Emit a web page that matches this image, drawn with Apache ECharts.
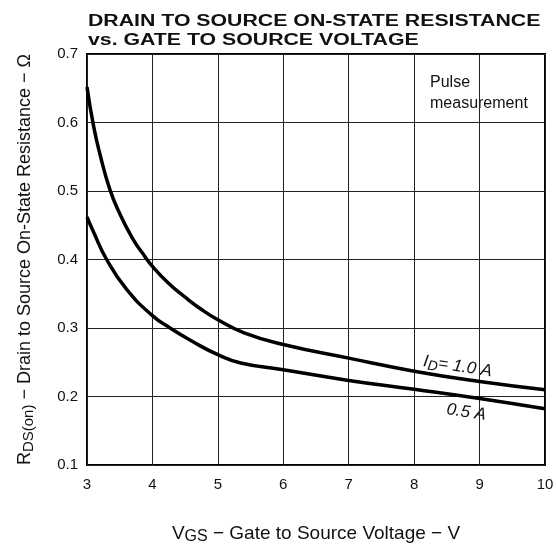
<!DOCTYPE html>
<html>
<head>
<meta charset="utf-8">
<script src="https://cdn.jsdelivr.net/npm/echarts@6/dist/echarts.min.js"></script>
<style>
  html, body { margin: 0; padding: 0; background: #fff; }
  #chart { width: 556px; height: 549px; }
</style>
</head>
<body>
<div id="chart"></div>
<script>
// VGS (V) vs RDS(on) (ohm)
const id1Curve = [
  [3, 0.652], [3.1, 0.595], [3.2, 0.553], [3.35, 0.502], [3.5, 0.467], [3.7, 0.43],
  [3.85, 0.409], [4, 0.39], [4.25, 0.365], [4.5, 0.345], [4.75, 0.327], [5, 0.312],
  [5.4, 0.293], [6, 0.276], [7, 0.256], [8, 0.237], [9, 0.222], [10, 0.21]
]
const id05Curve = [
  [3, 0.462], [3.1, 0.44], [3.3, 0.4], [3.6, 0.357], [4, 0.318], [4.27, 0.3],
  [4.6, 0.281], [5, 0.261], [5.35, 0.249], [6, 0.239], [7, 0.2235], [8, 0.2105],
  [9, 0.197], [10, 0.182]
]
const xTicks = [3, 4, 5, 6, 7, 8, 9, 10]
const yTicks = [0.1, 0.2, 0.3, 0.4, 0.5, 0.6, 0.7]

const chart = echarts.init(document.getElementById('chart'))

const font = 'Liberation Sans, Arial, sans-serif'

const option = {
  backgroundColor: '#fff',
  animation: false,
  grid: {
    left: 87,
    right: 11,
    top: 54,
    bottom: 84,
    show: true,
    borderColor: '#000',
    borderWidth: 2,
    outerBoundsMode: 'none',
    containLabel: false
  },
  xAxis: {
    type: 'value',
    min: 3,
    max: 10,
    interval: 1,
    name: '{v|V}{sub|GS}{v| − Gate to Source Voltage − V}',
    nameLocation: 'middle',
    nameGap: 57,
    nameTextStyle: {
      rich: {
        v: { fontFamily: font, fontSize: 19, color: '#111' },
        sub: { fontFamily: font, fontSize: 16, color: '#111', padding: [7, 0, 0, 0] }
      }
    },
    axisLine: { show: false },
    axisTick: { show: false },
    axisLabel: {
      fontFamily: font,
      fontSize: 15,
      color: '#111',
      margin: 12,
      formatter: v => xTicks.includes(v) ? String(v) : ''
    },
    splitLine: { show: true, lineStyle: { color: '#222', width: 1 } }
  },
  yAxis: {
    type: 'value',
    min: 0.1,
    max: 0.7,
    interval: 0.1,
    name: '{v|R}{sub|DS(on)}{v| − Drain to Source On-State Resistance − Ω}',
    nameLocation: 'middle',
    nameGap: 51,
    nameRotate: 90,
    nameTextStyle: {
      rich: {
        v: { fontFamily: font, fontSize: 18, color: '#111' },
        sub: { fontFamily: font, fontSize: 15, color: '#111', padding: [7, 0, 0, 0] }
      }
    },
    axisLine: { show: false },
    axisTick: { show: false },
    axisLabel: {
      fontFamily: font,
      fontSize: 15,
      color: '#111',
      margin: 9,
      formatter: v => yTicks.find(t => Math.abs(t - v) < 1e-6)?.toFixed(1) ?? ''
    },
    splitLine: { show: true, lineStyle: { color: '#222', width: 1 } }
  },
  graphic: [
    {
      // title, stretched to match the wide spaced capitals
      type: 'text',
      x: 88,
      y: 12,
      scaleX: 1.33,
      style: {
        text: 'DRAIN TO SOURCE ON-STATE RESISTANCE\nvs. GATE TO SOURCE VOLTAGE',
        font: 'bold 16px ' + font,
        fill: '#111',
        lineHeight: 19
      }
    },
    {
      type: 'text',
      x: 430,
      y: 72,
      style: {
        text: 'Pulse\nmeasurement',
        font: '16px ' + font,
        fill: '#111',
        lineHeight: 21
      }
    },
    {
      type: 'text',
      x: 425,
      y: 351,
      rotation: -0.15,
      style: {
        text: '{i|I}{s|D}{i|= 1.0 A}',
        rich: {
          i: { fontFamily: font, fontSize: 17, fontStyle: 'italic', fill: '#111' },
          s: { fontFamily: font, fontSize: 14, fontStyle: 'italic', fill: '#111', padding: [7, 0, 0, 0] }
        }
      }
    },
    {
      type: 'text',
      x: 448,
      y: 401,
      rotation: -0.15,
      style: {
        text: '0.5 A',
        font: 'italic 17px ' + font,
        fill: '#111'
      }
    }
  ],
  series: [
    {
      name: 'ID = 1.0 A',
      type: 'line',
      data: id1Curve,
      smooth: 0.5,
      showSymbol: false,
      lineStyle: { color: '#000', width: 3.5 }
    },
    {
      name: 'ID = 0.5 A',
      type: 'line',
      data: id05Curve,
      smooth: 0.5,
      showSymbol: false,
      lineStyle: { color: '#000', width: 3.5 }
    }
  ]
}

chart.setOption(option)
</script>
</body>
</html>
